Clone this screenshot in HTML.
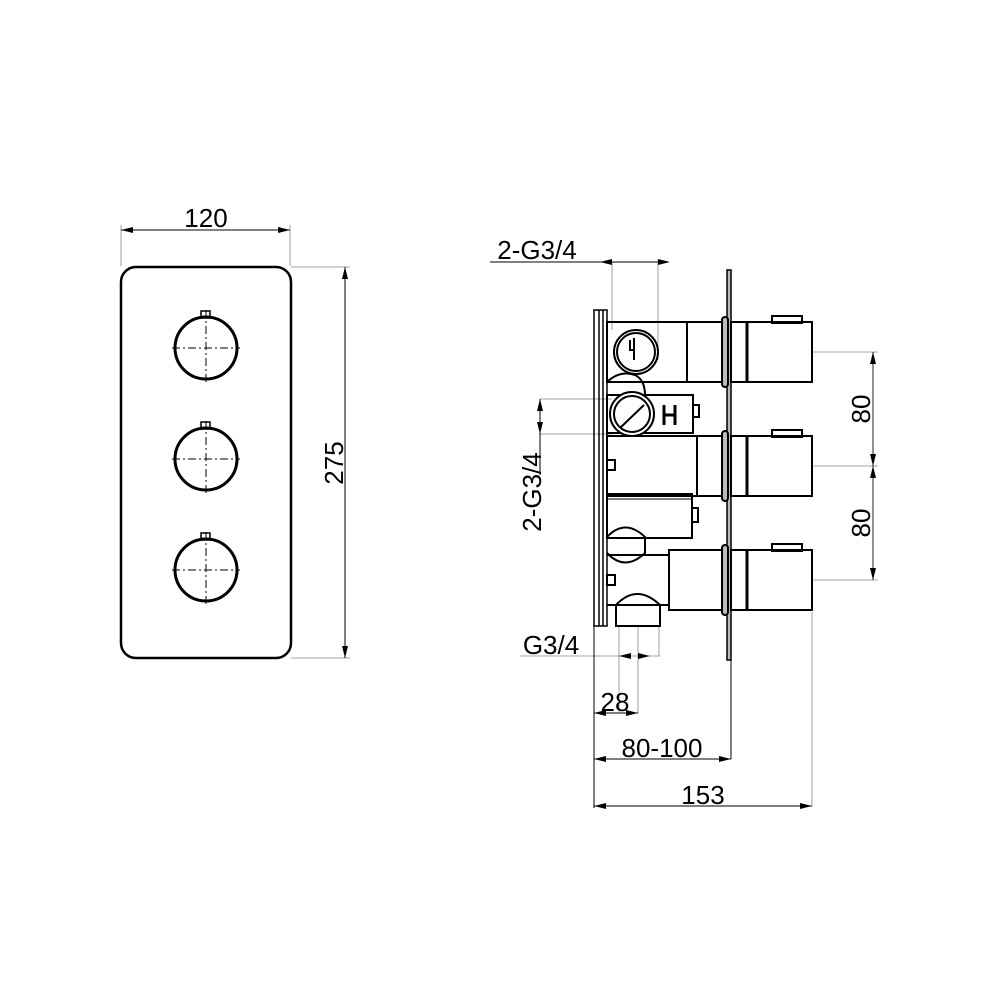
<!DOCTYPE html>
<html><head><meta charset="utf-8"><style>
html,body{margin:0;padding:0;background:#fff}
svg{display:block}
text{font-family:"Liberation Sans",Arial,sans-serif;fill:#000}
</style></head><body>
<svg width="1000" height="1000" viewBox="0 0 1000 1000" xmlns="http://www.w3.org/2000/svg">
<defs>
<marker id="a" viewBox="0 0 12 6" refX="12" refY="3" markerWidth="12" markerHeight="6" orient="auto-start-reverse" markerUnits="userSpaceOnUse"><path d="M0,0 L12,3 L0,6 Z" fill="#000"/></marker>
</defs>
<g stroke="#000" fill="none">
<rect x="121" y="267" width="170" height="391" rx="15" stroke-width="2.5"/>
<g stroke-width="0.8" stroke="#888">
<line x1="121" y1="266" x2="121" y2="225"/><line x1="290" y1="266" x2="290" y2="225"/>
<line x1="291" y1="267" x2="350" y2="267"/><line x1="291" y1="658" x2="350" y2="658"/>
</g>
<line x1="121" y1="230" x2="290" y2="230" stroke-width="1" marker-start="url(#a)" marker-end="url(#a)"/>
<line x1="345" y1="267" x2="345" y2="658" stroke-width="1" marker-start="url(#a)" marker-end="url(#a)"/>
<g stroke-width="3">
<circle cx="206" cy="348" r="31"/><circle cx="206" cy="459" r="31"/><circle cx="206" cy="570" r="31"/>
</g>
<g stroke-width="1.5">
<rect x="201" y="311" width="9" height="7"/><rect x="201" y="422" width="9" height="7"/><rect x="201" y="533" width="9" height="7"/>
</g>
<g stroke-width="1" stroke-dasharray="8,3,2,3">
<line x1="172" y1="348" x2="240" y2="348"/><line x1="206" y1="310" x2="206" y2="382"/>
<line x1="172" y1="459" x2="240" y2="459"/><line x1="206" y1="421" x2="206" y2="493"/>
<line x1="172" y1="570" x2="240" y2="570"/><line x1="206" y1="532" x2="206" y2="604"/>
</g>

<g stroke-width="0.8" stroke="#888">
<line x1="612" y1="262" x2="612" y2="330"/><line x1="658" y1="262" x2="658" y2="360"/>
<line x1="540" y1="399" x2="612" y2="399"/><line x1="540" y1="434" x2="612" y2="434"/>
<line x1="520" y1="656" x2="660" y2="656"/>
<line x1="619" y1="626" x2="619" y2="713"/><line x1="638" y1="626" x2="638" y2="713"/><line x1="659" y1="626" x2="659" y2="656"/>
<line x1="812" y1="612" x2="812" y2="806"/>
<line x1="812" y1="352" x2="878" y2="352"/><line x1="812" y1="466" x2="878" y2="466"/><line x1="812" y1="580" x2="878" y2="580"/>
<line x1="873" y1="352" x2="873" y2="580"/>
</g>
<g stroke-width="1">
<line x1="594" y1="626" x2="594" y2="808"/>
<line x1="731" y1="660" x2="731" y2="759"/>
<line x1="490" y1="262" x2="660" y2="262"/>
<line x1="540" y1="399" x2="540" y2="475"/>
</g>
<line x1="540" y1="399" x2="540" y2="434" stroke-width="1" marker-start="url(#a)" marker-end="url(#a)"/>
<line x1="594" y1="713" x2="638" y2="713" stroke-width="1" marker-start="url(#a)" marker-end="url(#a)"/>
<line x1="594" y1="759" x2="731" y2="759" stroke-width="1" marker-start="url(#a)" marker-end="url(#a)"/>
<line x1="594" y1="806" x2="812" y2="806" stroke-width="1" marker-start="url(#a)" marker-end="url(#a)"/>
<line x1="873" y1="352" x2="873" y2="466" stroke-width="0.8" marker-start="url(#a)" marker-end="url(#a)"/>
<line x1="873" y1="466" x2="873" y2="580" stroke-width="0.8" marker-start="url(#a)" marker-end="url(#a)"/>
<path d="M600,262 l12,-3 v6 z M670,262 l-12,-3 v6 z" fill="#000" stroke="none"/>
<path d="M619,656 l12,-3 v6 z M650,656 l-12,-3 v6 z" fill="#000" stroke="none"/>

<g stroke-width="1.5">
<rect x="594" y="310" width="13" height="316"/>
<line x1="599" y1="310" x2="599" y2="626"/><line x1="603" y1="310" x2="603" y2="626"/>
</g>
<rect x="727" y="270" width="4" height="390" stroke-width="1.5" fill="#bbb"/>

<g stroke-width="2">
<rect x="607" y="322" width="80" height="60"/>
<rect x="687" y="322" width="36" height="60"/>
<rect x="722" y="317" width="6" height="70" rx="3" fill="#bbb"/>
<rect x="731" y="322" width="81" height="60"/>
<line x1="747" y1="322" x2="747" y2="382" stroke-width="3"/>
<rect x="772" y="316" width="30" height="7"/>
<circle cx="636" cy="352" r="22"/><circle cx="636" cy="352" r="19"/>
<path d="M634,338 V360 M634,350 H630 V340"/>
<path d="M607,382 Q620,370 635,375 Q645,380 645,395"/>
<rect x="607" y="395" width="86" height="38"/>
<rect x="693" y="405" width="6" height="12"/>
<circle cx="632" cy="414" r="22" fill="#fff"/><circle cx="632" cy="414" r="18"/>
<line x1="620" y1="428" x2="644" y2="405"/>
<path d="M664,405 V425 M675,405 V425 M664,415 H675" stroke-width="3"/>
<rect x="607" y="436" width="90" height="60"/>
<rect x="697" y="436" width="26" height="60"/>
<rect x="722" y="431" width="6" height="70" rx="3" fill="#bbb"/>
<rect x="731" y="436" width="81" height="60"/>
<line x1="747" y1="436" x2="747" y2="496" stroke-width="3"/>
<rect x="772" y="430" width="30" height="7"/>
<rect x="607" y="460" width="8" height="10"/>
<rect x="607" y="494" width="85" height="44"/>
<line x1="607" y1="499" x2="692" y2="499" stroke-width="1"/>
<rect x="692" y="508" width="6" height="14"/>
<path d="M607,537 Q625,518 645,537 V553 Q625,572 607,553"/>
<line x1="607" y1="555" x2="669" y2="555"/>
<rect x="669" y="550" width="54" height="60"/>
<rect x="722" y="545" width="6" height="70" rx="3" fill="#bbb"/>
<rect x="731" y="550" width="81" height="60"/>
<line x1="747" y1="550" x2="747" y2="610" stroke-width="3"/>
<rect x="772" y="544" width="30" height="7"/>
<rect x="607" y="575" width="8" height="10"/>
<path d="M607,605 H616 Q637,583 660,605 V626 H616 V605"/>
<line x1="607" y1="605" x2="669" y2="605"/>
</g>
</g>

<g font-size="26">
<text x="206" y="227" text-anchor="middle">120</text>
<text transform="translate(343,463) rotate(-90)" text-anchor="middle">275</text>
<text x="537" y="259" text-anchor="middle">2-G3/4</text>
<text transform="translate(541,492) rotate(-90)" text-anchor="middle">2-G3/4</text>
<text x="551" y="654" text-anchor="middle">G3/4</text>
<text x="615" y="711" text-anchor="middle">28</text>
<text x="662" y="757" text-anchor="middle">80-100</text>
<text x="703" y="804" text-anchor="middle">153</text>
<text transform="translate(870,409) rotate(-90)" text-anchor="middle">80</text>
<text transform="translate(870,523) rotate(-90)" text-anchor="middle">80</text>
</g>
</svg>
</body></html>
